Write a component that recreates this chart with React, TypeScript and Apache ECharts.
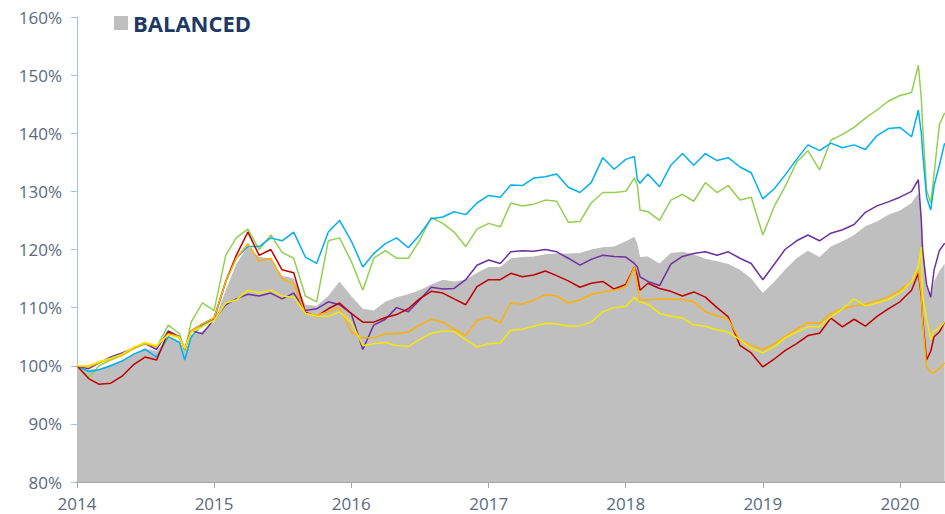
import React, { useEffect, useRef } from "react";
import * as echarts from "echarts";

const dates = [
  "2014-01-01", "2014-02-01", "2014-03-01", "2014-04-01", "2014-05-01", "2014-06-01",
  "2014-07-01", "2014-08-01", "2014-09-01", "2014-10-01", "2014-10-15", "2014-11-01",
  "2014-12-01", "2015-01-01", "2015-02-01", "2015-03-01", "2015-04-01", "2015-05-01",
  "2015-06-01", "2015-07-01", "2015-08-01", "2015-09-01", "2015-10-01", "2015-11-01",
  "2015-12-01", "2016-01-01", "2016-02-01", "2016-03-01", "2016-04-01", "2016-05-01",
  "2016-06-01", "2016-07-01", "2016-08-01", "2016-09-01", "2016-10-01", "2016-11-01",
  "2016-12-01", "2017-01-01", "2017-02-01", "2017-03-01", "2017-04-01", "2017-05-01",
  "2017-06-01", "2017-07-01", "2017-08-01", "2017-09-01", "2017-10-01", "2017-11-01",
  "2017-12-01", "2018-01-01", "2018-01-24", "2018-02-01", "2018-02-08", "2018-03-01",
  "2018-04-01", "2018-05-01", "2018-06-01", "2018-07-01", "2018-08-01", "2018-09-01",
  "2018-10-01", "2018-11-01", "2018-12-01", "2019-01-01", "2019-02-01", "2019-03-01",
  "2019-04-01", "2019-05-01", "2019-06-01", "2019-07-01", "2019-08-01", "2019-09-01",
  "2019-10-01", "2019-11-01", "2019-12-01", "2020-01-01", "2020-02-01", "2020-02-19",
  "2020-02-27", "2020-03-01", "2020-03-12", "2020-03-23", "2020-04-01", "2020-04-15",
  "2020-04-29",
];

const balanced = [
  100, 99.3, 99.5, 100.2, 101, 102, 103, 102.5, 105, 104.2, 102.3, 105.2,
  106, 107.5, 113, 117.5, 120.5, 118.7, 118.5, 115.5, 115, 110.5, 110.3, 112,
  114.5, 112, 109.8, 109.5, 111, 111.8, 112.3, 113, 114, 114.8, 114.5, 114.8,
  116, 117, 117, 118.5, 118.7, 118.8, 119.2, 119.3, 119.3, 119.4, 120, 120.4,
  120.5, 121.4, 122.2, 121, 118.7, 118.8, 117.6, 119.4, 119.6, 119.2, 118.4, 118,
  117.5, 116.5, 115, 112.5, 114.5, 116.5, 118.5, 119.8, 118.7, 120.5, 121.4, 122.5,
  124, 124.8, 126, 126.7, 128, 129.7, 126.5, 122.8, 114.2, 111.8, 114.5, 116.3,
  117.6,
];

const blue = [
  100, 99, 99.3, 100, 100.8, 102, 102.8, 101.5, 105, 104, 101, 105,
  107, 108, 114.5, 118.5, 120.5, 120.5, 122, 121.5, 123, 118.7, 117.6, 123,
  125, 121.5, 117, 119.3, 121, 122, 120.3, 122.5, 125.3, 125.6, 126.5, 126,
  128, 129.3, 129, 131.1, 131, 132.3, 132.5, 133, 130.7, 129.8, 131.5, 135.8,
  133.8, 135.5, 136, 132, 131.4, 133, 130.8, 134.5, 136.5, 134.5, 136.5, 135.3,
  135.8, 134.2, 133.2, 128.7, 130.5, 132.8, 135.5, 138, 137, 138.3, 137.5, 138,
  137.2, 139.6, 140.8, 141, 139.4, 144, 140, 137.1, 129, 126.8, 131, 134.5,
  138.3,
];

const green = [
  100, 98, 100, 101, 101.8, 103, 104, 103.2, 107, 105.5, 102.5, 107.5,
  110.8, 109.5, 119, 122, 123.5, 120, 122.5, 119.5, 118.5, 112, 111, 121.5,
  122, 118, 113, 118.5, 119.8, 118.5, 118.5, 121.5, 125.5, 124.5, 123, 120.5,
  123.5, 124.5, 123.9, 128, 127.5, 127.8, 128.5, 128.3, 124.7, 124.8, 128, 129.8,
  129.8, 130, 132.3, 131, 126.8, 126.5, 125, 128.5, 129.5, 128.3, 131.5, 129.8,
  131, 128.5, 129, 122.5, 127.5, 130.8, 135, 137, 133.7, 138.8, 139.8, 141,
  142.6, 144, 145.5, 146.5, 147, 151.7, 146, 141.8, 130.2, 128, 133, 141.5,
  143.5,
];

const purple = [
  100, 99.5, 100.5, 101.5, 102.2, 103, 103.8, 102.8, 106, 105, 102.8, 106,
  105.5, 108, 110.5, 111.5, 112.3, 112, 112.5, 111.5, 112.5, 109.5, 109.8, 111,
  110.5, 109, 102.8, 107, 108, 110, 109.3, 111.3, 113.5, 113.2, 113.3, 114.8,
  117.3, 118.2, 117.6, 119.6, 119.8, 119.7, 120, 119.6, 118.5, 117.3, 118.3, 119,
  118.8, 118.7, 117.6, 117, 115.3, 114.5, 113.8, 117.5, 118.8, 119.3, 119.6, 119,
  119.6, 118.5, 117.6, 114.8, 117.5, 120, 121.5, 122.5, 121.5, 122.8, 123.4, 124.3,
  126.4, 127.5, 128.2, 129, 130, 132, 125, 120, 114, 111.8, 116.5, 119.8,
  121.1,
];

const red = [
  100, 97.8, 96.8, 97, 98.2, 100.2, 101.5, 101, 105.8, 104.8, 103, 106,
  107.2, 108.2, 114.5, 119, 123, 119, 120, 116.5, 116, 109.2, 108.5, 109.8,
  110.8, 109, 107.5, 107.5, 108.3, 108.8, 109.8, 111.5, 112.8, 112.5, 111.5, 110.5,
  113.6, 114.8, 114.8, 115.9, 115.3, 115.6, 116.3, 115.5, 114.6, 113.5, 114.2, 114.5,
  113.2, 114, 117, 115.5, 113, 114.2, 113.3, 112.8, 112, 112.7, 111.8, 110,
  108.4, 103.5, 102.2, 99.8, 101.2, 102.6, 103.8, 105.2, 105.6, 108.2, 106.7, 108,
  106.8, 108.5, 109.8, 111, 113, 115.9, 112, 108.4, 101, 102.5, 105, 105.8,
  107.5,
];

const orange = [
  100, 99.8, 100.5, 101.2, 101.8, 103, 103.8, 103.3, 105.5, 105, 102.8, 106,
  107.2, 108.2, 114.5, 118.5, 121, 118, 118.5, 115, 114, 109, 108.7, 109.3,
  110, 105.8, 104.8, 104.8, 105.5, 105.5, 105.8, 107, 108, 107.5, 106.3, 105.2,
  107.8, 108.4, 107.4, 110.8, 110.6, 111.3, 112.2, 112, 110.8, 111.3, 112.3, 112.7,
  113, 113.6, 117, 113.5, 111.3, 111.3, 111.5, 111.5, 111.4, 111, 109.3, 108.6,
  108, 104.4, 103.5, 102.8, 103.8, 105, 106.3, 107.4, 107.3, 109, 109.8, 110.3,
  110.6, 111.2, 111.9, 113, 114.5, 116.5, 112.5, 108, 99.8, 98.9, 98.8, 99.6,
  100.5,
];

const yellow = [
  100, 100, 100.7, 101.3, 102, 103.2, 104, 103.5, 105.3, 104.8, 103, 105.8,
  106.7, 107.8, 110.8, 111.3, 113, 112.5, 113, 112, 111.8, 109, 108.5, 108.5,
  109.3, 107.5, 103.5, 103.8, 104, 103.5, 103.3, 104.5, 105.6, 106, 105.9, 104.5,
  103.2, 103.8, 103.9, 106.1, 106.3, 106.8, 107.3, 107.2, 106.8, 106.9, 107.5, 109.3,
  110, 110.2, 111.8, 111.2, 111, 110.6, 109, 108.5, 108.2, 107, 106.8, 106.2,
  105.8, 104.5, 103, 102.2, 103.3, 104.8, 105.8, 106.7, 106.7, 108.4, 109.8, 111.5,
  110.3, 110.8, 111.4, 112.5, 114.5, 117, 120.4, 112, 108, 104.5, 106, 106.5,
  107.5,
];

const yTicks = { min: 80, max: 160, interval: 10 };

const pair = (vals: number[]) => dates.map((d, i) => [d, vals[i]]);

const lineSeries = [
  { name: "Green", color: "#92d050", values: green },
  { name: "Blue", color: "#00b0f0", values: blue },
  { name: "Purple", color: "#7030a0", values: purple },
  { name: "Red", color: "#c00000", values: red },
  { name: "Orange", color: "#ffb000", values: orange },
  { name: "Yellow", color: "#f5ea00", values: yellow },
];

const labelColor = "#5a6a80";
const font = "'Open Sans', 'Noto Sans', sans-serif";

export default function App() {
  const ref = useRef<HTMLDivElement>(null);

  useEffect(() => {
    if (!ref.current) return;
    const chart = echarts.init(ref.current, undefined, { renderer: "svg" });
    chart.setOption({
      animation: false,
      backgroundColor: "#ffffff",
      grid: { left: 77, right: 0, top: 17, bottom: 32, containLabel: false },
      legend: {
        data: ["BALANCED"],
        left: 109,
        top: 7,
        icon: "rect",
        itemWidth: 14,
        itemHeight: 14,
        itemGap: 5,
        textStyle: {
          fontSize: 22,
          fontWeight: "bold",
          color: "#203864",
          fontFamily: font,
        },
      },
      xAxis: {
        type: "time",
        min: "2014-01-01",
        max: "2020-04-30",
        splitLine: { show: false },
        axisLine: { show: true, lineStyle: { color: "#a6a6a6", width: 2 } },
        axisTick: { show: true, length: 6, lineStyle: { color: "#a6a6a6" } },
        axisLabel: {
          color: labelColor,
          fontSize: 17,
          fontFamily: font,
          margin: 13,
          showMaxLabel: false,
          formatter: (v: number) => {
            const d = new Date(v);
            return d.getMonth() === 0 && d.getDate() === 1 ? String(d.getFullYear()) : "";
          },
        },
      },
      yAxis: {
        type: "value",
        min: yTicks.min,
        max: yTicks.max,
        interval: yTicks.interval,
        splitLine: { show: false },
        axisLine: { show: true, lineStyle: { color: "#9dc3e6", width: 1 } },
        axisTick: { show: true, length: 6, lineStyle: { color: "#9dc3e6" } },
        axisLabel: {
          color: labelColor,
          fontSize: 17,
          fontFamily: font,
          margin: 15,
          formatter: "{value}%",
        },
      },
      series: [
        {
          name: "BALANCED",
          type: "line",
          data: pair(balanced),
          showSymbol: false,
          symbol: "none",
          color: "#bfbfbf",
          lineStyle: { width: 0, color: "#bfbfbf" },
          areaStyle: { color: "#bfbfbf", opacity: 1, origin: "start" },
          z: 1,
        },
        ...lineSeries.map((s) => ({
          name: s.name,
          type: "line",
          data: pair(s.values),
          showSymbol: false,
          symbol: "none",
          color: s.color,
          lineStyle: { width: 1.5, color: s.color },
          z: 2,
        })),
      ],
    });
    return () => chart.dispose();
  }, []);

  return (
    <div
      ref={ref}
      style={{ position: "fixed", left: 0, top: 0, width: 945, height: 514 }}
    />
  );
}
